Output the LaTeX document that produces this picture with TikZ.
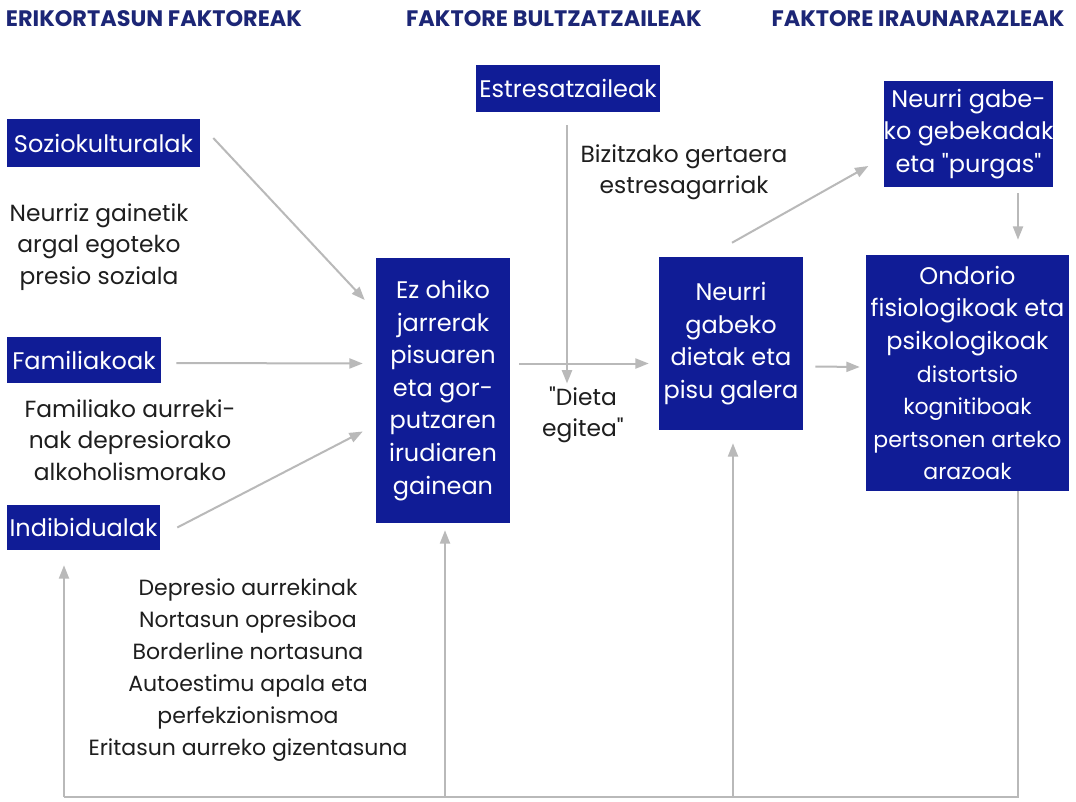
\documentclass[tikz,border=0pt]{standalone}
\usepackage{fontspec}
\setmainfont{Poppins}[Ligatures=TeXOff]
\usetikzlibrary{arrows.meta,calc}
\definecolor{boxblue}{RGB}{16,28,150}
\definecolor{headblue}{RGB}{28,38,118}
\definecolor{arrgray}{RGB}{185,185,185}
\definecolor{txt}{RGB}{30,30,30}
\begin{document}
\begin{tikzpicture}[x=0.75pt,y=-0.75pt,
  bx/.style={fill=boxblue,draw=none,text=white,inner sep=0pt,align=center,
    font=\fontsize{18}{24.4}\selectfont},
  lbl/.style={text=txt,inner sep=0pt,align=center,font=\fontsize{17.5}{23.5}\selectfont},
  head/.style={text=headblue,inner sep=0pt,font=\fontsize{16.8}{19}\selectfont\bfseries},
  ln/.style={draw=arrgray,line width=1.5pt},
  arr/.style={ln,-{Triangle[length=10pt,width=7.5pt]}}]
\useasboundingbox (0,0) rectangle (1076,801);
\fill[white] (0,0) rectangle (1076,801);
% headings
\node[head] (h1) at (154,19) {ERIKORTASUN FAKTOREAK};
\node[head] (h2) at (554,19) {FAKTORE BULTZATZAILEAK};
\node[head] (h3) at (918,19) {FAKTORE IRAUNARAZLEAK};
% boxes
\node[bx,minimum width=144.75pt,minimum height=36pt] (sozio) at (103.5,143) {Soziokulturalak};
\node[bx,minimum width=115.5pt,minimum height=34.5pt] (famil) at (84,360) {Familiakoak};
\node[bx,minimum width=114.75pt,minimum height=33.75pt] (indiv) at (83.5,527.5) {Indibidualak};
\node[bx,minimum width=138pt,minimum height=35.25pt] (estres) at (568,88.5) {Estresatzaileak};
\node[bx,minimum width=100.5pt,minimum height=198.75pt] (ezohiko) at (443,390.5) {Ez ohiko\\jarrerak\\pisuaren\\eta gor-\\putzaren\\irudiaren\\gainean};
\node[bx,minimum width=108pt,minimum height=129.75pt] (neurri) at (731,343.5) {Neurri\\gabeko\\dietak eta\\pisu galera};
\node[bx,minimum width=125.25pt,minimum height=79.5pt] (purgas) at (968.5,134) {Neurri gabe-\\ko gebekadak\\eta "purgas"};
\node[bx,minimum width=152.25pt,minimum height=177pt] (ondorio) at (967.5,373) {Ondorio\\fisiologikoak eta\\psikologikoak\\{\fontsize{16.5}{24.4}\selectfont distortsio}\\{\fontsize{16.5}{24.4}\selectfont kognitiboak}\\{\fontsize{16.5}{24.4}\selectfont pertsonen arteko}\\{\fontsize{16.5}{24.4}\selectfont arazoak}};
% labels
\node[lbl] (l1) at (99,247) {Neurriz gainetik\\argal egoteko\\presio soziala};
\node[lbl] (l2) at (130,440) {Familiako aurreki-\\nak depresiorako\\alkoholismorako};
\node[lbl] (l3) at (684,172) {Bizitzako gertaera\\estresagarriak};
\node[lbl] (l4) at (583,415) {"Dieta\\egitea"};
\node[lbl,font=\fontsize{16.5}{24}\selectfont] (l5) at (248,670) {Depresio aurrekinak\\Nortasun opresiboa\\Borderline nortasuna\\Autoestimu apala eta\\perfekzionismoa\\Eritasun aurreko gizentasuna};
% arrows
\draw[arr] ([shift={(13,-5)}]sozio.east) -- ([shift={(-11,-90.5)}]ezohiko.west);
\draw[arr] ([shift={(15,3)}]famil.east) -- ([shift={(-13,-27)}]ezohiko.west);
\draw[arr] ([shift={(17,0)}]indiv.east) -- ([shift={(-13,41)}]ezohiko.west);
\draw[arr] ([shift={(-1,13)}]estres.south) -- ([shift={(-1,-7)}]estres.south |- ezohiko.west) coordinate (ea);
\draw[arr] ([shift={(9,-27)}]ezohiko.east) -- ([shift={(-10,-27)}]neurri.west |- ezohiko.east);
\draw[arr] ([shift={(1,-14)}]neurri.north) -- ([shift={(-15,32)}]purgas.west);
\draw[arr] ([shift={(49.5,6)}]purgas.south) -- ([shift={(50.5,-15)}]ondorio.north);
\draw[arr] ([shift={(12,23)}]neurri.east) -- ([shift={(-6,-6)}]ondorio.west);
% feedback loop
\coordinate (bl) at (64,797);
\draw[ln] ([shift={(50.5,0)}]ondorio.south) |- (bl);
\draw[arr] (bl) -- ([shift={(-19.5,15)}]indiv.south);
\draw[arr] ([shift={(2,0)}]ezohiko.south |- bl) -- ([shift={(2,7)}]ezohiko.south);
\draw[arr] ([shift={(2,0)}]neurri.south |- bl) -- ([shift={(2,13)}]neurri.south);
\end{tikzpicture}
\end{document}
